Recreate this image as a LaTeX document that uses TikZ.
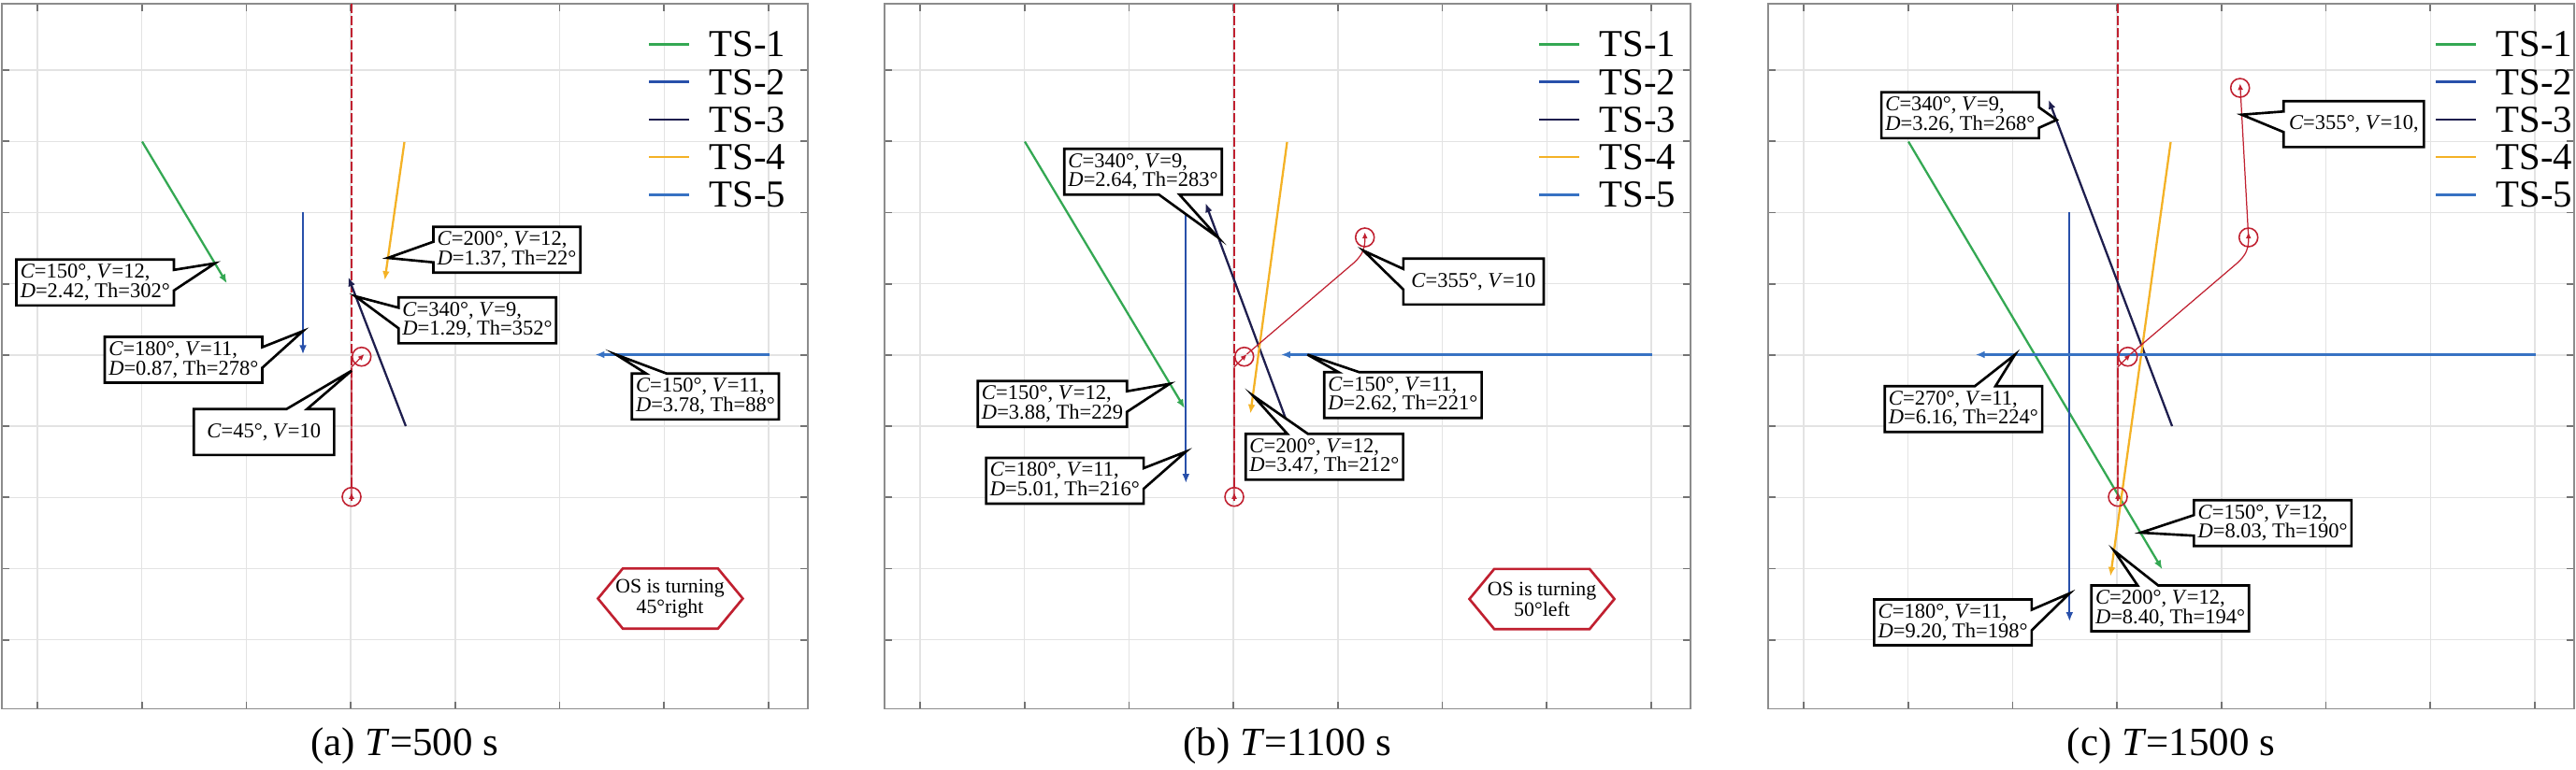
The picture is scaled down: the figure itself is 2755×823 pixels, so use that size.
\documentclass[tikz,border=0pt]{standalone}
\usepackage{fontspec}
\setmainfont{Liberation Serif}
\usepackage{tikz}
\usetikzlibrary{arrows.meta,shapes.callouts,calc}

\definecolor{tsgreen}{RGB}{52,168,83}
\definecolor{tsblue}{RGB}{40,80,170}
\definecolor{tsnavy}{RGB}{30,30,78}
\definecolor{tsorange}{RGB}{244,178,38}
\definecolor{tslight}{RGB}{55,114,195}
\definecolor{osred}{RGB}{192,32,48}

\newcommand{\tsinfo}[4]{\textit{C}=#1, \textit{V}=#2,\\\textit{D}=#3, Th=#4}

\begin{document}
\begin{tikzpicture}[x=0.01cm,y=-0.01cm,
  gridline/.style={draw=black!11,line width=0.4pt},
  frameline/.style={draw=black!45,line width=0.5pt},
  axtick/.style={draw=black!55,line width=0.5pt},
  route/.style={draw=osred,line width=0.6pt,dash pattern=on 2.8pt off 0.9pt},
  ostrack/.style={draw=osred,line width=0.35pt,-{Latex[length=1.9pt,width=1.7pt]}},
  ospos/.style={draw=osred,line width=0.45pt},
  tsline/.style={line width=0.65pt,-{Latex[length=2.8pt,width=2.2pt]}},
  infobox/.style={rectangle callout,draw=black,fill=white,line width=0.75pt,
    inner xsep=1.2pt,inner ysep=1pt,minimum height=0.49cm,align=left,
    callout pointer width=0.22cm,font=\fontsize{6.4}{5.9}\selectfont},
  osbox/.style={infobox,minimum width=1.5cm,align=center},
  turnline/.style={draw=osred,fill=white,line width=0.75pt},
  turntext/.style={align=center,font=\fontsize{6.2}{6.3}\selectfont},
  legtext/.style={anchor=base west,font=\fontsize{11.6}{12}\selectfont},
  captext/.style={anchor=base,font=\fontsize{12.2}{14}\selectfont}]

\useasboundingbox (0,0) rectangle (2755,823);

% frame, grid, planned route, legend and caption of each panel
\foreach \dx/\lx/\pan/\tsec in {0/694/a/500,944/702/b/1100,1889/716/c/1500}{
  \begin{scope}[shift={(\dx,0)}]
    \foreach \i in {0,...,7}
      \draw[gridline] (40+111.7*\i,4) -- (40+111.7*\i,758.5);
    \foreach \j in {0,...,8}
      \draw[gridline] (2,75.1+76.2*\j) -- (864,75.1+76.2*\j);
    \foreach \i in {0,...,7}{
      \draw[axtick] (40+111.7*\i,758.5) -- ++(0,-8);
      \draw[axtick] (40+111.7*\i,4) -- ++(0,8);}
    \foreach \j in {0,...,8}{
      \draw[axtick] (2,75.1+76.2*\j) -- ++(8,0);
      \draw[axtick] (864,75.1+76.2*\j) -- ++(-8,0);}
    \draw[frameline] (2,4) rectangle (864,758.5);
    \draw[route] (376,4) -- (376,522);
    \foreach \k/\col in {1/tsgreen,2/tsblue,3/tsnavy,4/tsorange,5/tslight}{
      \draw[draw=\col,line width=0.7pt] (\lx,7.05+40.27*\k) -- (\lx+43,7.05+40.27*\k);
      \node[legtext] (\pan-leg\k) at (\lx+52,20.6+40.27*\k) {TS-\k};}
    \node[captext] (\pan-cap) at (432.8,808) {(\pan) \textit{T}=\tsec\ s};
  \end{scope}
}

% (a) T=500 s
\coordinate (a-s1) at (152,151.5);   \coordinate (a-e1) at (242.7,303.3);
\coordinate (a-s2) at (324,227);     \coordinate (a-e2) at (324,379.3);
\coordinate (a-s3) at (434,456);     \coordinate (a-e3) at (372.5,296.5);
\coordinate (a-s4) at (432.5,152);   \coordinate (a-e4) at (411.5,300);
\coordinate (a-s5) at (822.5,379.5); \coordinate (a-e5) at (636.5,379.5);
\draw[tsline,tsgreen] (a-s1) -- (a-e1);
\draw[tsline,tsblue] (a-s2) -- (a-e2);
\draw[tsline,tsnavy] (a-s3) -- (a-e3);
\draw[tsline,tsorange] (a-s4) -- (a-e4);
\draw[tsline,tslight] (a-s5) -- (a-e5);

\coordinate (a-os0) at (376,531.7);
\coordinate (a-os1) at (386.7,381.7);
\coordinate (a-h1) at (389.5,379);
\draw[ostrack] (a-os0) -- ++(0,-139) -- (a-h1);
\draw[ostrack] ([yshift=-1.3pt]a-os0) -- ([yshift=1.3pt]a-os0);
\draw[ospos] (a-os0) circle[radius=0.1cm] (a-os1) circle[radius=0.1cm];

\coordinate (a-p1) at (230,281.7);
\coordinate (a-p2) at (324,354.3);
\coordinate (a-p3) at (380,317);
\coordinate (a-p4) at (414.8,276);
\coordinate (a-p5) at (658.9,379.5);
\coordinate (a-pos) at (376,396.7);
\node[infobox,callout absolute pointer={(a-p1)}] (a-i1) at (101.8,302.3) {\tsinfo{150°}{12}{2.42}{302°}};
\node[infobox,callout absolute pointer={(a-p2)}] (a-i2) at (196.3,385) {\tsinfo{180°}{11}{0.87}{278°}};
\node[infobox,callout absolute pointer={(a-p3)}] (a-i3) at (510.5,342.8) {\tsinfo{340°}{9}{1.29}{352°}};
\node[infobox,callout absolute pointer={(a-p4)}] (a-i4) at (542.1,267.2) {\tsinfo{200°}{12}{1.37}{22°}};
\node[infobox,callout absolute pointer={(a-p5)}] (a-i5) at (754.4,424.3) {\tsinfo{150°}{11}{3.78}{88°}};
\node[osbox,callout absolute pointer={(a-pos)}] (a-ios) at (282.3,462.3) {\textit{C}=45°, \textit{V}=10};

\coordinate (a-hc) at (716.5,640.5);
\draw[turnline] ($(a-hc)+(-77,0)$) -- ++(26.6,-32.2) -- ++(101.7,0) -- ++(26.6,32.2)
  -- ++(-26.6,32.2) -- ++(-101.7,0) -- cycle;
\node[turntext] (a-turn) at (a-hc) {OS is turning\\45°right};

% (b) T=1100 s
\begin{scope}[shift={(944,0)}]
\coordinate (b-s1) at (152,151.5);   \coordinate (b-e1) at (323,437);
\coordinate (b-s2) at (324.3,227);   \coordinate (b-e2) at (324.3,517);
\coordinate (b-s3) at (434,456);     \coordinate (b-e3) at (345.3,217.3);
\coordinate (b-s4) at (432.5,152);   \coordinate (b-e4) at (393.3,442.7);
\coordinate (b-s5) at (822.5,379.5); \coordinate (b-e5) at (426,379.5);
\draw[tsline,tsgreen] (b-s1) -- (b-e1);
\draw[tsline,tsblue] (b-s2) -- (b-e2);
\draw[tsline,tsnavy] (b-s3) -- (b-e3);
\draw[tsline,tsorange] (b-s4) -- (b-e4);
\draw[tsline,tslight] (b-s5) -- (b-e5);

\coordinate (b-os0) at (376,531.7);
\coordinate (b-os1) at (386.7,381.7);
\coordinate (b-os2) at (515.7,254);
\coordinate (b-h1) at (389.5,379);
\coordinate (b-h2) at (515.7,248.5);
\draw[ostrack] (b-os0) -- ++(0,-139) -- (b-h1);
\draw[ostrack,rounded corners=2pt] (b-h1) -- (509.5,276.5) -- (515.7,265) -- (b-h2);
\draw[ostrack] ([yshift=-1.3pt]b-os0) -- ([yshift=1.3pt]b-os0);
\draw[ospos] (b-os0) circle[radius=0.1cm] (b-os1) circle[radius=0.1cm] (b-os2) circle[radius=0.1cm];

\coordinate (b-p1) at (307,410.7);
\coordinate (b-p2) at (324.3,483.3);
\coordinate (b-p3) at (358.5,254);
\coordinate (b-p4) at (396,423.3);
\coordinate (b-p5) at (454.3,379.5);
\coordinate (b-pos) at (514.3,268.3);
\node[infobox,callout absolute pointer={(b-p3)}] (b-i3) at (278.5,183.7) {\tsinfo{340°}{9}{2.64}{283°}};
\node[infobox,callout absolute pointer={(b-p1)}] (b-i1) at (181.5,432.2) {\tsinfo{150°}{12}{3.88}{229}};
\node[infobox,callout absolute pointer={(b-p2)}] (b-i2) at (194.9,514.5) {\tsinfo{180°}{11}{5.01}{216°}};
\node[infobox,callout absolute pointer={(b-p5)}] (b-i5) at (556.4,422.7) {\tsinfo{150°}{11}{2.62}{221°}};
\node[infobox,callout absolute pointer={(b-p4)}] (b-i4) at (472.4,488.8) {\tsinfo{200°}{12}{3.47}{212°}};
\node[osbox,callout absolute pointer={(b-pos)}] (b-ios) at (631.9,301.3) {\textit{C}=355°, \textit{V}=10};

\coordinate (b-hc) at (705,641);
\draw[turnline] ($(b-hc)+(-77.5,0)$) -- ++(26.6,-32.2) -- ++(101.9,0) -- ++(26.6,32.2)
  -- ++(-26.6,32.2) -- ++(-101.9,0) -- cycle;
\node[turntext] (b-turn) at (b-hc) {OS is turning\\50°left};
\end{scope}

% (c) T=1500 s
\begin{scope}[shift={(1889,0)}]
\coordinate (c-s1) at (152,151.5);   \coordinate (c-e1) at (423.5,609.3);
\coordinate (c-s2) at (324.3,227);   \coordinate (c-e2) at (324.3,665);
\coordinate (c-s3) at (434,456);     \coordinate (c-e3) at (302,106.7);
\coordinate (c-s4) at (432.5,152);   \coordinate (c-e4) at (368.1,616.7);
\coordinate (c-s5) at (822.5,379.5); \coordinate (c-e5) at (223.7,379.5);
\draw[tsline,tsgreen] (c-s1) -- (c-e1);
\draw[tsline,tsblue] (c-s2) -- (c-e2);
\draw[tsline,tsnavy] (c-s3) -- (c-e3);
\draw[tsline,tsorange] (c-s4) -- (c-e4);
\draw[tsline,tslight] (c-s5) -- (c-e5);

\coordinate (c-os0) at (376,531.7);
\coordinate (c-os1) at (386.7,381.7);
\coordinate (c-os2) at (515.7,254);
\coordinate (c-os3) at (506.7,94);
\coordinate (c-h1) at (389.5,379);
\coordinate (c-h2) at (515.7,248.5);
\coordinate (c-h3) at (506.7,89.5);
\draw[ostrack] (c-os0) -- ++(0,-139) -- (c-h1);
\draw[ostrack,rounded corners=2pt] (c-h1) -- (509.5,276.5) -- (515.7,265) -- (c-h2);
\draw[ostrack] (c-os2) -- (c-h3);
\draw[ostrack] ([yshift=-1.3pt]c-os0) -- ([yshift=1.3pt]c-os0);
\draw[ospos] (c-os0) circle[radius=0.1cm] (c-os1) circle[radius=0.1cm]
  (c-os2) circle[radius=0.1cm] (c-os3) circle[radius=0.1cm];

\coordinate (c-p1) at (400.5,570);
\coordinate (c-p2) at (324.3,635);
\coordinate (c-p3) at (310.5,128.3);
\coordinate (c-p4) at (372,589.3);
\coordinate (c-p5) at (266,379.5);
\coordinate (c-pos) at (508.4,122.7);
\node[infobox,callout absolute pointer={(c-p3)}] (c-i3) at (207.3,123.3) {\tsinfo{340°}{9}{3.26}{268°}};
\node[osbox,callout absolute pointer={(c-pos)}] (c-ios) at (628.3,132.8) {\textit{C}=355°, \textit{V}=10,};
\node[infobox,callout absolute pointer={(c-p5)}] (c-i5) at (210.9,437.7) {\tsinfo{270°}{11}{6.16}{224°}};
\node[infobox,callout absolute pointer={(c-p1)}] (c-i1) at (541.6,559.7) {\tsinfo{150°}{12}{8.03}{190°}};
\node[infobox,callout absolute pointer={(c-p2)}] (c-i2) at (199.6,666) {\tsinfo{180°}{11}{9.20}{198°}};
\node[infobox,callout absolute pointer={(c-p4)}] (c-i4) at (432,651) {\tsinfo{200°}{12}{8.40}{194°}};
\end{scope}

\end{tikzpicture}
\end{document}
